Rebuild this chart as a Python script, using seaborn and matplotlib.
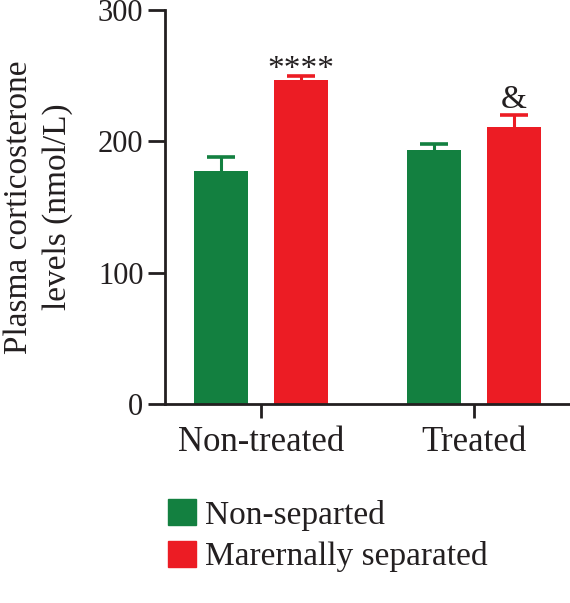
import seaborn as sns
import pandas as pd
import matplotlib.pyplot as plt

# Values
treatments = ['Non-treated', 'Treated']
groups = ['Non-separted', 'Marernally separated']
non_separated = [177, 193]
non_separated_err = [11, 5]
separated = [247, 211]
separated_err = [3, 9]
annotations = ['****', '&']

colors = {'Non-separted': '#138040', 'Marernally separated': '#ec1c24'}
ink = '#231f20'

df = pd.DataFrame({
    'treatment': treatments * 2,
    'group': [groups[0]] * 2 + [groups[1]] * 2,
    'value': non_separated + separated,
    'err': non_separated_err + separated_err,
})

sns.set_style('ticks')
plt.rcParams['font.family'] = ['Liberation Serif', 'DejaVu Serif']

fig = plt.figure(figsize=(5.7, 6.03), dpi=100)
ax = fig.add_axes([0.2895, 0.330, 0.7105, 0.6536])

sns.barplot(data=df, x='treatment', y='value', hue='group', order=treatments,
            hue_order=groups, palette=colors, width=0.75, gap=0.32,
            saturation=1, errorbar=None, legend=False, linewidth=0, ax=ax)

# upward-only error bars (SEM), same colour as the bar
for patch, (_, row) in zip(ax.patches, df.iterrows()):
    xc = patch.get_x() + patch.get_width() / 2
    half = patch.get_width() * 0.26
    top = row['value'] + row['err']
    c = colors[row['group']]
    ax.vlines(xc, row['value'], top, color=c, linewidth=2.2)
    ax.hlines(top, xc - half, xc + half, color=c, linewidth=2.6)

# significance marks above the separated bars
sep_patches = ax.patches[2:4]
for patch, val, err, txt, off in zip(sep_patches, separated, separated_err, annotations, [-7, 0]):
    xc = patch.get_x() + patch.get_width() / 2
    ax.text(xc, val + err + off, txt, ha='center', va='bottom', fontsize=24, color=ink)

ax.set_ylim(0, 300)
ax.set_yticks([0, 100, 200, 300])
ax.set_xlim(-0.45, 1.45)
ax.set_xlabel('')
ax.set_ylabel('Plasma corticosterone\nlevels (nmol/L)', fontsize=24, color=ink,
              labelpad=18, linespacing=1.35)
ax.tick_params(axis='both', colors=ink, width=2)
ax.tick_params(axis='y', length=12, labelsize=22)
ax.tick_params(axis='x', length=10, pad=6, labelsize=25)
for s in ['left', 'bottom']:
    ax.spines[s].set_linewidth(2)
    ax.spines[s].set_color(ink)
sns.despine(ax=ax)

handles = [plt.Rectangle((0, 0), 1, 1, color=colors[g]) for g in groups]
fig.legend(handles, groups, loc='lower left', bbox_to_anchor=(0.242, 0.001), frameon=False,
           fontsize=24, handlelength=0.85, handleheight=0.85, handletextpad=0.25,
           labelspacing=0.3, labelcolor=ink)

fig.savefig('out.png', dpi=100)
